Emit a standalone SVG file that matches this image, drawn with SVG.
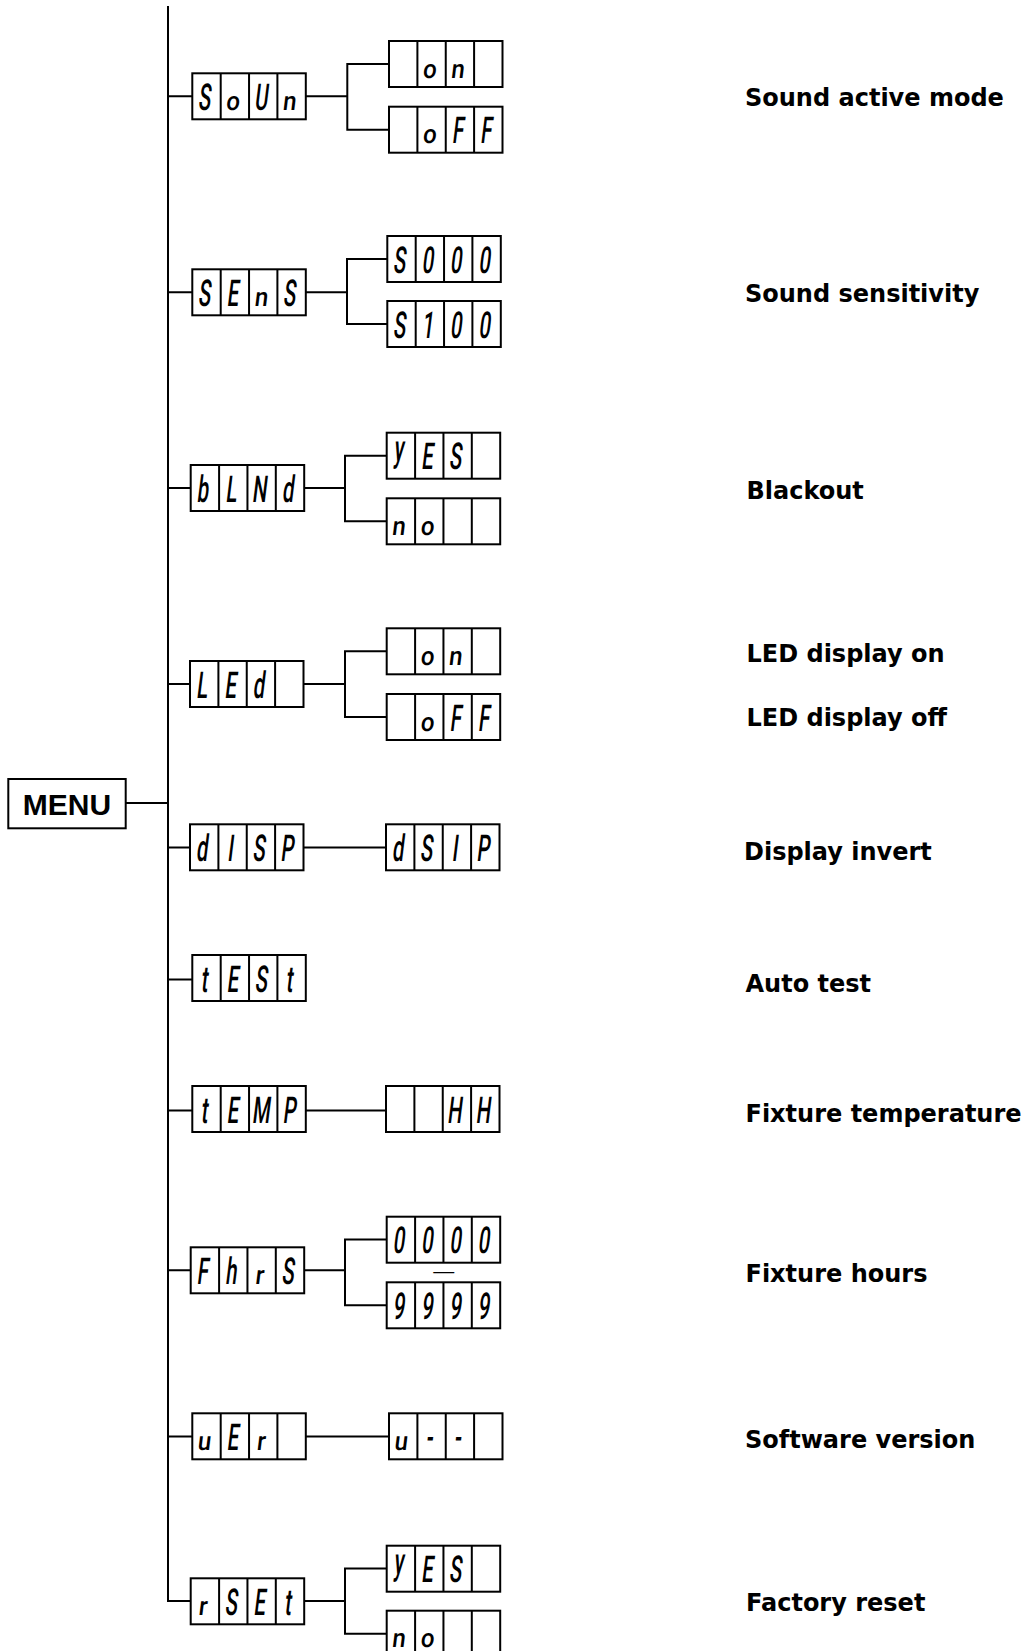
<svg xmlns="http://www.w3.org/2000/svg" xmlns:xlink="http://www.w3.org/1999/xlink" width="1028" height="1651" viewBox="0 0 1028 1651">
<style>
.bx{fill:#fff;stroke:#000;stroke-width:2}
.cn{fill:none;stroke:#000;stroke-width:2}
.s{font-family:Roboto,"Liberation Sans",sans-serif;font-weight:500;font-size:37px;text-anchor:middle;fill:#000}
.lb{font-family:"DejaVu Sans",sans-serif;font-weight:bold;font-size:24px;fill:#000}
.mn{font-family:"Liberation Sans",Arial,sans-serif;font-weight:bold;font-size:30px;text-anchor:middle;fill:#000}
</style>
<defs>
<g id="disp"><rect class="bx" x="0" y="0" width="113.5" height="46"/><path class="cn" d="M28.4 0V46M56.75 0V46M85.1 0V46"/></g>
</defs>
<rect width="1028" height="1651" fill="#fff"/>
<g id="connectors">
<path class="cn" d="M168 6V1601H190.7"/>
<path class="cn" d="M168 96.3H192.3M305.7 96.3H347.3M389 64H347.3V129.7H389"/>
<path class="cn" d="M168 292.3H192.3M305.7 292.3H347M387.3 259H347V324H387.3"/>
<path class="cn" d="M168 488H190.7M304 488H345M386.7 455.7H345V521.3H386.7"/>
<path class="cn" d="M168 684H190M303.5 684H345M386.7 651.3H345V717H386.7"/>
<path class="cn" d="M125.7 803H168"/>
<path class="cn" d="M168 847.5H190M303.5 847.5H386"/>
<path class="cn" d="M168 979.5H192.3"/>
<path class="cn" d="M168 1110.5H192.3M305.8 1110.5H386"/>
<path class="cn" d="M168 1270.3H190.7M304.2 1270.3H345M386.7 1239.5H345V1305.3H386.7"/>
<path class="cn" d="M168 1436.5H192.3M305.8 1436.5H389"/>
<path class="cn" d="M304.2 1601H345M386.7 1568.5H345V1633.7H386.7"/>
</g>
<g id="menu"><rect class="bx" x="8.3" y="779" width="117.4" height="49.3"/><text class="mn" x="67" y="815">MENU</text></g>

<g id="soun"><use xlink:href="#disp" x="192.3" y="73.3"/>
<text class="s" transform="translate(203.8,109.8) skewX(-7) scale(0.55,1)">S</text>
<text class="s" transform="translate(232.3,109.8) skewX(-7) scale(0.65,0.7)">o</text>
<text class="s" transform="translate(260.6,109.8) skewX(-7) scale(0.55,1)">U</text>
<text class="s" transform="translate(289,109.8) skewX(-7) scale(0.65,0.7)">n</text></g>
<g id="soun-on"><use xlink:href="#disp" x="389" y="41"/>
<text class="s" transform="translate(429,77.5) skewX(-7) scale(0.65,0.7)">o</text>
<text class="s" transform="translate(457.3,77.5) skewX(-7) scale(0.65,0.7)">n</text></g>
<g id="soun-off"><use xlink:href="#disp" x="389" y="106.7"/>
<text class="s" transform="translate(429,143.2) skewX(-7) scale(0.65,0.7)">o</text>
<text class="s" transform="translate(457.3,143.2) skewX(-7) scale(0.55,1)">F</text>
<text class="s" transform="translate(485.7,143.2) skewX(-7) scale(0.55,1)">F</text></g>

<g id="sens"><use xlink:href="#disp" x="192.3" y="269.3"/>
<text class="s" transform="translate(203.8,305.8) skewX(-7) scale(0.55,1)">S</text>
<text class="s" transform="translate(232.3,305.8) skewX(-7) scale(0.55,1)">E</text>
<text class="s" transform="translate(260.6,305.8) skewX(-7) scale(0.65,0.7)">n</text>
<text class="s" transform="translate(289,305.8) skewX(-7) scale(0.55,1)">S</text></g>
<g id="sens-0"><use xlink:href="#disp" x="387.3" y="236"/>
<text class="s" transform="translate(398.8,272.5) skewX(-7) scale(0.55,1)">S</text>
<text class="s" transform="translate(427.3,272.5) skewX(-7) scale(0.55,1)">0</text>
<text class="s" transform="translate(455.6,272.5) skewX(-7) scale(0.55,1)">0</text>
<text class="s" transform="translate(484,272.5) skewX(-7) scale(0.55,1)">0</text></g>
<g id="sens-100"><use xlink:href="#disp" x="387.3" y="301"/>
<text class="s" transform="translate(398.8,337.5) skewX(-7) scale(0.55,1)">S</text>
<text class="s" transform="translate(427.3,337.5) skewX(-7) scale(0.55,1)">1</text>
<text class="s" transform="translate(455.6,337.5) skewX(-7) scale(0.55,1)">0</text>
<text class="s" transform="translate(484,337.5) skewX(-7) scale(0.55,1)">0</text></g>

<g id="blnd"><use xlink:href="#disp" x="190.7" y="465"/>
<text class="s" transform="translate(202.2,501.5) skewX(-7) scale(0.55,1)">b</text>
<text class="s" transform="translate(230.7,501.5) skewX(-7) scale(0.55,1)">L</text>
<text class="s" transform="translate(259,501.5) skewX(-7) scale(0.55,1)">N</text>
<text class="s" transform="translate(287.4,501.5) skewX(-7) scale(0.55,1)">d</text></g>
<g id="blnd-yes"><use xlink:href="#disp" x="386.7" y="432.7"/>
<text class="s" transform="translate(398.2,461.2) skewX(-7) scale(0.55,1)">y</text>
<text class="s" transform="translate(426.7,469.2) skewX(-7) scale(0.55,1)">E</text>
<text class="s" transform="translate(455,469.2) skewX(-7) scale(0.55,1)">S</text></g>
<g id="blnd-no"><use xlink:href="#disp" x="386.7" y="498.3"/>
<text class="s" transform="translate(398.2,534.8) skewX(-7) scale(0.65,0.7)">n</text>
<text class="s" transform="translate(426.7,534.8) skewX(-7) scale(0.65,0.7)">o</text></g>

<g id="led"><use xlink:href="#disp" x="190" y="661"/>
<text class="s" transform="translate(201.5,697.5) skewX(-7) scale(0.55,1)">L</text>
<text class="s" transform="translate(230,697.5) skewX(-7) scale(0.55,1)">E</text>
<text class="s" transform="translate(258.3,697.5) skewX(-7) scale(0.55,1)">d</text></g>
<g id="led-on"><use xlink:href="#disp" x="386.7" y="628.3"/>
<text class="s" transform="translate(426.7,664.8) skewX(-7) scale(0.65,0.7)">o</text>
<text class="s" transform="translate(455,664.8) skewX(-7) scale(0.65,0.7)">n</text></g>
<g id="led-off"><use xlink:href="#disp" x="386.7" y="694"/>
<text class="s" transform="translate(426.7,730.5) skewX(-7) scale(0.65,0.7)">o</text>
<text class="s" transform="translate(455,730.5) skewX(-7) scale(0.55,1)">F</text>
<text class="s" transform="translate(483.4,730.5) skewX(-7) scale(0.55,1)">F</text></g>

<g id="disp-n"><use xlink:href="#disp" x="190" y="824.3"/>
<text class="s" transform="translate(201.5,860.8) skewX(-7) scale(0.55,1)">d</text>
<text class="s" transform="translate(230,860.8) skewX(-7) scale(0.55,1)">I</text>
<text class="s" transform="translate(258.3,860.8) skewX(-7) scale(0.55,1)">S</text>
<text class="s" transform="translate(286.7,860.8) skewX(-7) scale(0.55,1)">P</text></g>
<g id="dsip"><use xlink:href="#disp" x="386" y="824.3"/>
<text class="s" transform="translate(397.5,860.8) skewX(-7) scale(0.55,1)">d</text>
<text class="s" transform="translate(426,860.8) skewX(-7) scale(0.55,1)">S</text>
<text class="s" transform="translate(454.3,860.8) skewX(-7) scale(0.55,1)">I</text>
<text class="s" transform="translate(482.7,860.8) skewX(-7) scale(0.55,1)">P</text></g>

<g id="test"><use xlink:href="#disp" x="192.3" y="955"/>
<text class="s" transform="translate(203.8,991.5) skewX(-7) scale(0.55,1)">t</text>
<text class="s" transform="translate(232.3,991.5) skewX(-7) scale(0.55,1)">E</text>
<text class="s" transform="translate(260.6,991.5) skewX(-7) scale(0.55,1)">S</text>
<text class="s" transform="translate(289,991.5) skewX(-7) scale(0.55,1)">t</text></g>

<g id="temp"><use xlink:href="#disp" x="192.3" y="1086"/>
<text class="s" transform="translate(203.8,1122.5) skewX(-7) scale(0.55,1)">t</text>
<text class="s" transform="translate(232.3,1122.5) skewX(-7) scale(0.55,1)">E</text>
<text class="s" transform="translate(260.6,1122.5) skewX(-7) scale(0.55,1)">M</text>
<text class="s" transform="translate(289,1122.5) skewX(-7) scale(0.55,1)">P</text></g>
<g id="temp-hh"><use xlink:href="#disp" x="386" y="1086"/>
<text class="s" transform="translate(454.3,1122.5) skewX(-7) scale(0.55,1)">H</text>
<text class="s" transform="translate(482.7,1122.5) skewX(-7) scale(0.55,1)">H</text></g>

<g id="fhrs"><use xlink:href="#disp" x="190.7" y="1247.3"/>
<text class="s" transform="translate(202.2,1283.8) skewX(-7) scale(0.55,1)">F</text>
<text class="s" transform="translate(230.7,1283.8) skewX(-7) scale(0.55,1)">h</text>
<text class="s" transform="translate(259,1283.8) skewX(-7) scale(0.65,0.7)">r</text>
<text class="s" transform="translate(287.4,1283.8) skewX(-7) scale(0.55,1)">S</text></g>
<g id="fhrs-0"><use xlink:href="#disp" x="386.7" y="1216.7"/>
<text class="s" transform="translate(398.2,1253.2) skewX(-7) scale(0.55,1)">0</text>
<text class="s" transform="translate(426.7,1253.2) skewX(-7) scale(0.55,1)">0</text>
<text class="s" transform="translate(455,1253.2) skewX(-7) scale(0.55,1)">0</text>
<text class="s" transform="translate(483.4,1253.2) skewX(-7) scale(0.55,1)">0</text></g>
<text x="443.7" y="1277.5" style="font-family:'Liberation Sans',sans-serif;font-size:21px;text-anchor:middle">—</text>
<g id="fhrs-9"><use xlink:href="#disp" x="386.7" y="1282.3"/>
<text class="s" transform="translate(398.2,1318.8) skewX(-7) scale(0.55,1)">9</text>
<text class="s" transform="translate(426.7,1318.8) skewX(-7) scale(0.55,1)">9</text>
<text class="s" transform="translate(455,1318.8) skewX(-7) scale(0.55,1)">9</text>
<text class="s" transform="translate(483.4,1318.8) skewX(-7) scale(0.55,1)">9</text></g>

<g id="uer"><use xlink:href="#disp" x="192.3" y="1413.3"/>
<text class="s" transform="translate(203.8,1449.8) skewX(-7) scale(0.65,0.7)">u</text>
<text class="s" transform="translate(232.3,1449.8) skewX(-7) scale(0.55,1)">E</text>
<text class="s" transform="translate(260.6,1449.8) skewX(-7) scale(0.65,0.7)">r</text></g>
<g id="uer-v"><use xlink:href="#disp" x="389" y="1413.3"/>
<text class="s" transform="translate(400.5,1449.8) skewX(-7) scale(0.65,0.7)">u</text>
<text class="s" transform="translate(429,1449.8) skewX(-7) scale(0.55,1)">-</text>
<text class="s" transform="translate(457.3,1449.8) skewX(-7) scale(0.55,1)">-</text></g>

<g id="rset"><use xlink:href="#disp" x="190.7" y="1578.3"/>
<text class="s" transform="translate(202.2,1614.8) skewX(-7) scale(0.65,0.7)">r</text>
<text class="s" transform="translate(230.7,1614.8) skewX(-7) scale(0.55,1)">S</text>
<text class="s" transform="translate(259,1614.8) skewX(-7) scale(0.55,1)">E</text>
<text class="s" transform="translate(287.4,1614.8) skewX(-7) scale(0.55,1)">t</text></g>
<g id="rset-yes"><use xlink:href="#disp" x="386.7" y="1545.7"/>
<text class="s" transform="translate(398.2,1574.2) skewX(-7) scale(0.55,1)">y</text>
<text class="s" transform="translate(426.7,1582.2) skewX(-7) scale(0.55,1)">E</text>
<text class="s" transform="translate(455,1582.2) skewX(-7) scale(0.55,1)">S</text></g>
<g id="rset-no"><use xlink:href="#disp" x="386.7" y="1610.7"/>
<text class="s" transform="translate(398.2,1647.2) skewX(-7) scale(0.65,0.7)">n</text>
<text class="s" transform="translate(426.7,1647.2) skewX(-7) scale(0.65,0.7)">o</text></g>

<g id="labels">
<text class="lb" x="745" y="105.7">Sound active mode</text>
<text class="lb" x="745" y="301.7">Sound sensitivity</text>
<text class="lb" x="746.5" y="499">Blackout</text>
<text class="lb" x="746.5" y="661.7">LED display on</text>
<text class="lb" x="746.5" y="725.7">LED display off</text>
<text class="lb" x="744" y="860">Display invert</text>
<text class="lb" x="745.5" y="991.7">Auto test</text>
<text class="lb" x="745.5" y="1122.3">Fixture temperature</text>
<text class="lb" x="745.5" y="1281.7">Fixture hours</text>
<text class="lb" x="745" y="1448.3">Software version</text>
<text class="lb" x="746" y="1610.7">Factory reset</text>
</g>
</svg>
